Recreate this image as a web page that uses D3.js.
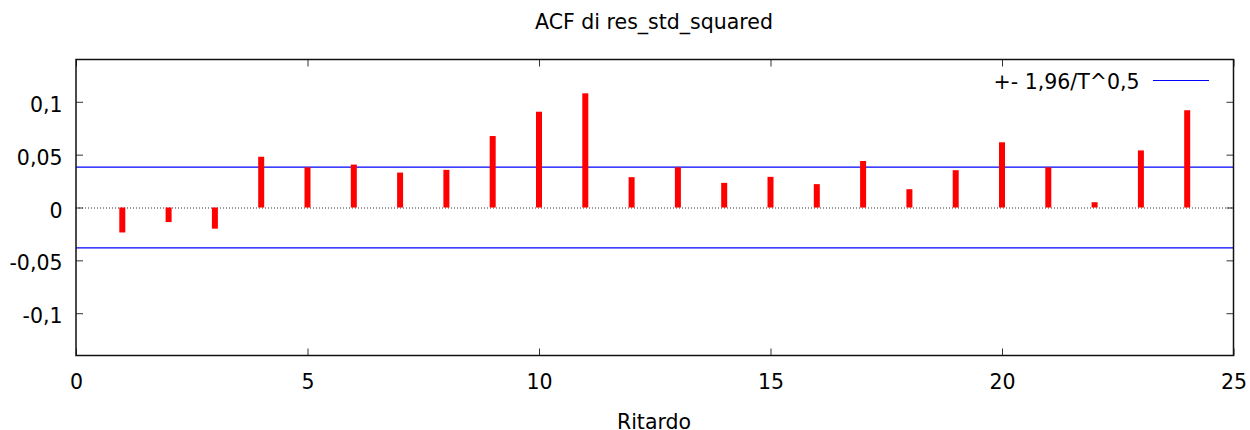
<!DOCTYPE html>
<html>
<head>
<meta charset="utf-8">
<script src="https://cdn.jsdelivr.net/npm/d3@7"></script>
<style>
body{margin:0;background:#fff;}
text{font-family:"DejaVu Sans",Verdana,sans-serif;fill:#000;}
</style>
</head>
<body>
<svg id="chart" width="1250" height="430"></svg>
<script>
const lags = [1,2,3,4,5,6,7,8,9,10,11,12,13,14,15,16,17,18,19,20,21,22,23,24];
const acf = [-0.0236,-0.0138,-0.020,0.048,0.038,0.0406,0.033,0.0356,0.0676,0.0906,0.108,0.0287,0.038,0.0233,0.029,0.0221,0.044,0.0173,0.0353,0.0617,0.038,0.005,0.054,0.092];
const band = 0.0381;
const xTicks = [0,5,10,15,20,25];
const yTicks = [-0.1,-0.05,0,0.05,0.1];
const titleText = "ACF di res_std_squared";
const xLabel = "Ritardo";
const legendText = "+- 1,96/T^0,5";

const FS = 20.5;
const svg = d3.select("#chart");
const L=76,R=1233.5,T=59.5,B=355.5;
const x = d3.scaleLinear().domain([0,25]).range([L,R]);
const y = d3.scaleLinear().domain([-0.14,0.14]).range([B,T]);
const fmt = v => String(+v.toFixed(2)).replace(".",",");

// zero line
svg.append("line").attr("x1",L).attr("x2",R).attr("y1",y(0)+0.5).attr("y2",y(0)+0.5)
  .attr("stroke","#333").attr("stroke-width",1).attr("stroke-dasharray","1,2");

// bands
[band,-band].forEach(v=>{
  svg.append("line").attr("x1",L).attr("x2",R).attr("y1",y(v)).attr("y2",y(v))
    .attr("stroke","#0000ff").attr("stroke-width",1.2);
});

// bars
svg.selectAll("rect.bar").data(lags).enter().append("rect").attr("class","bar")
  .attr("x",(d)=>x(d)-3).attr("width",6)
  .attr("y",(d,i)=>y(Math.max(0,acf[i])))
  .attr("height",(d,i)=>Math.abs(y(acf[i])-y(0)))
  .attr("fill","#ff0000");

// axes
const gB = svg.append("g").attr("transform",`translate(0,${B})`)
  .call(d3.axisBottom(x).tickValues(xTicks).tickSize(-7).tickPadding(19).tickFormat(d=>d));
const gT = svg.append("g").attr("transform",`translate(0,${T})`)
  .call(d3.axisTop(x).tickValues(xTicks).tickSize(-7).tickFormat(""));
const gL = svg.append("g").attr("transform",`translate(${L},0)`)
  .call(d3.axisLeft(y).tickValues(yTicks).tickSize(-7).tickPadding(13.5).tickFormat(fmt));
const gR = svg.append("g").attr("transform",`translate(${R},0)`)
  .call(d3.axisRight(y).tickValues(yTicks).tickSize(-7).tickFormat(""));
[gB,gT,gL,gR].forEach(g=>{
  g.select(".domain").remove();
  g.selectAll(".tick line").attr("stroke","#333").attr("stroke-width",1);
  g.selectAll("text").attr("font-size",FS).attr("font-family","DejaVu Sans, Verdana, sans-serif").attr("fill","#000");
});
gL.selectAll(".tick text").attr("dy","0.47em");
svg.append("rect").attr("x",L).attr("y",T).attr("width",R-L).attr("height",B-T)
  .attr("fill","none").attr("stroke","#111").attr("stroke-width",1.5);

// title & labels
svg.append("text").attr("x",654).attr("y",29.3).attr("text-anchor","middle").attr("font-size",FS).text(titleText);
svg.append("text").attr("x",654).attr("y",428.5).attr("text-anchor","middle").attr("font-size",FS).text(xLabel);

// legend
svg.append("text").attr("x",1139.5).attr("y",89.3).attr("text-anchor","end").attr("font-size",FS).text(legendText);
svg.append("line").attr("x1",1153).attr("x2",1209).attr("y1",80.5).attr("y2",80.5).attr("stroke","#0000ff").attr("stroke-width",1.2);
</script>
</body>
</html>
